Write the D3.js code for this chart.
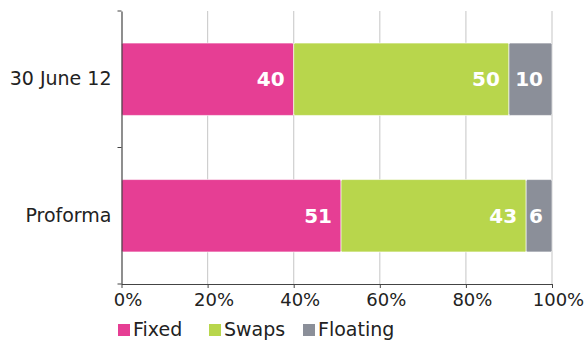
<!DOCTYPE html>
<html>
<head>
<meta charset="utf-8">
<script src="https://cdn.jsdelivr.net/npm/d3@7"></script>
<style>
  html, body { margin: 0; padding: 0; background: #fff; }
  svg { display: block; }
  text { font-family: "DejaVu Sans", sans-serif; }
</style>
</head>
<body>
<svg id="chart" width="587" height="342"></svg>
<script>
// Funding mix, percent of total
const categories = ["30 June 12", "Proforma"];
const seriesNames = ["Fixed", "Swaps", "Floating"];
const fixed = [40, 51];
const swaps = [50, 43];
const floating = [10, 6];
const xTicks = [0, 20, 40, 60, 80, 100];
const colors = ["#e63e94", "#b8d64c", "#8b8f99"];

const rows = categories.map((c, i) => ({
  category: c, Fixed: fixed[i], Swaps: swaps[i], Floating: floating[i]
}));

const svg = d3.select("#chart");
const margin = { left: 121.5, right: 35, top: 11, bottom: 58 };
const W = 587, H = 342;

const x = d3.scaleLinear().domain([0, 100]).range([margin.left, W - margin.right]);
const y = d3.scaleBand().domain(categories)
  .range([margin.top, H - margin.bottom])
  .paddingInner(0.47).paddingOuter(0.235);

// vertical gridlines
svg.append("g").selectAll("line")
  .data(xTicks.filter(t => t > 0))
  .join("line")
  .attr("x1", d => x(d)).attr("x2", d => x(d))
  .attr("y1", margin.top).attr("y2", H - margin.bottom)
  .attr("stroke", "#cfcfcf").attr("stroke-width", 1.2);

const stack = d3.stack().keys(seriesNames)(rows);

const layers = svg.append("g").selectAll("g")
  .data(stack)
  .join("g")
  .attr("fill", (d, i) => colors[i]);

layers.selectAll("rect")
  .data(d => d)
  .join("rect")
  .attr("x", d => x(d[0]))
  .attr("width", d => x(d[1]) - x(d[0]))
  .attr("y", d => y(d.data.category))
  .attr("height", y.bandwidth())
  .attr("rx", 1.5)
  .attr("stroke", "#fff").attr("stroke-width", 0.6);

// value labels inside each segment, near its right end
layers.each(function (layer) {
  d3.select(this).selectAll("text")
    .data(layer)
    .join("text")
    .attr("x", d => x(d[1]) - 9)
    .attr("y", d => y(d.data.category) + y.bandwidth() / 2)
    .attr("dy", "0.36em")
    .attr("text-anchor", "end")
    .attr("fill", "#fff")
    .attr("font-weight", "bold")
    .attr("font-size", 20)
    .text(d => d[1] - d[0]);
});

// x axis
const xAxis = d3.axisBottom(x).tickValues(xTicks).tickFormat(d => d + "%").tickSize(4).tickSizeOuter(0);
const gx = svg.append("g").attr("transform", `translate(0,${H - margin.bottom})`).call(xAxis);
gx.select(".domain").attr("stroke", "#444").attr("stroke-width", 1.2);
gx.selectAll(".tick line").attr("stroke", "#444");
gx.selectAll(".tick text")
  .attr("font-size", 18).attr("fill", "#222")
  .attr("font-family", "DejaVu Sans, sans-serif")
  .attr("dx", 6).attr("dy", "0.85em");

// y axis with ticks at band boundaries
const yAxis = d3.axisLeft(y).tickSize(0).tickPadding(10);
const gy = svg.append("g").attr("transform", `translate(${margin.left},0)`).call(yAxis);
gy.select(".domain").attr("stroke", "#444").attr("stroke-width", 1.2);
gy.selectAll(".tick text")
  .attr("font-size", 19).attr("fill", "#222")
  .attr("font-family", "DejaVu Sans, sans-serif");
const [y0, y1] = y.range();
gy.selectAll(".bound")
  .data([y0, (y0 + y1) / 2, y1])
  .join("line")
  .attr("x1", -4).attr("x2", 0)
  .attr("y1", d => d).attr("y2", d => d)
  .attr("stroke", "#444");

// legend
const legendX = [118, 209, 303];
const lg = svg.append("g").selectAll("g")
  .data(seriesNames)
  .join("g")
  .attr("transform", (d, i) => `translate(${legendX[i]},${324})`);
lg.append("rect").attr("width", 12).attr("height", 12).attr("fill", (d, i) => colors[i]);
lg.append("text").attr("x", 15).attr("y", 12).attr("font-size", 19).attr("fill", "#222").text(d => d);
</script>
</body>
</html>
